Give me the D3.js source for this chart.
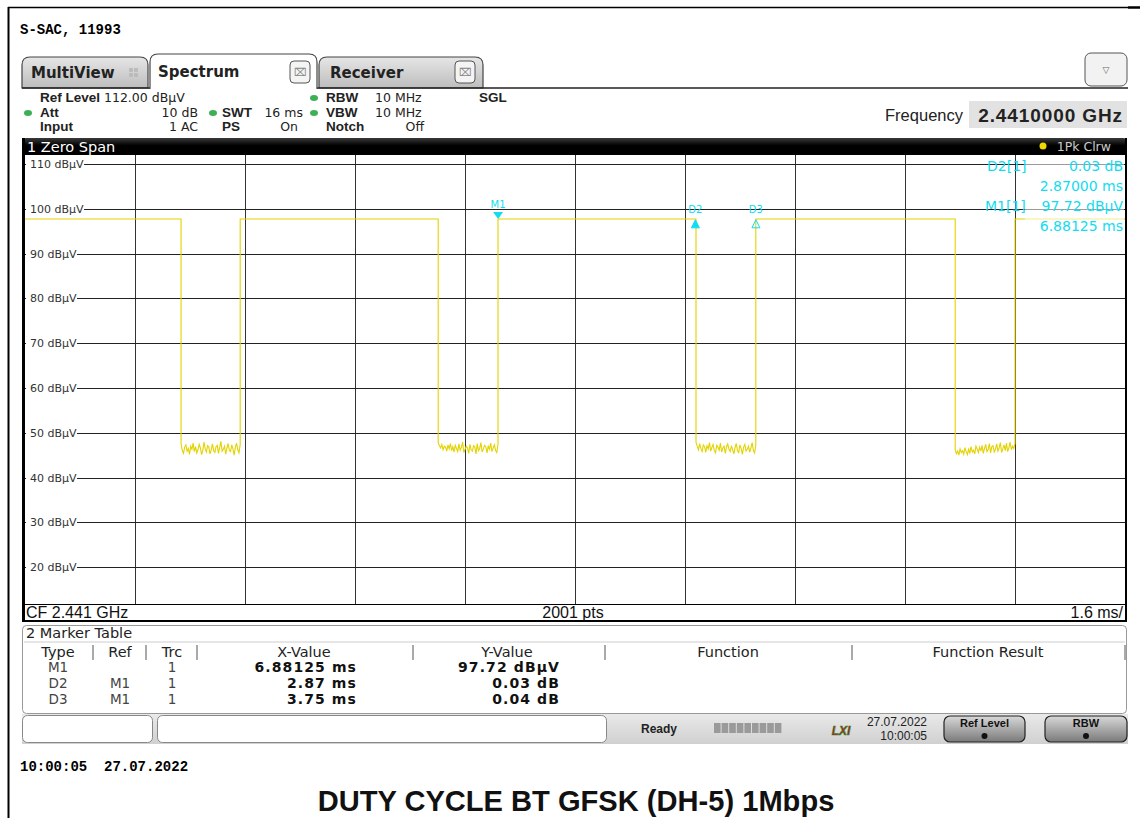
<!DOCTYPE html>
<html><head><meta charset="utf-8">
<script src="https://cdn.jsdelivr.net/npm/d3@7"></script>
<style>
html,body{margin:0;padding:0;background:#fff;}
svg{display:block;}
</style></head>
<body>
<svg id="c" width="1140" height="818"></svg>
<script>
// ---------------- DATA ----------------
const sweepTime = [0, 16];               // ms
const levelRange = [12, 112];            // dBµV (ref level 112)
const yTicks = [20, 30, 40, 50, 60, 70, 80, 90, 100, 110];
const xGrid = [1.6, 3.2, 4.8, 6.4, 8.0, 9.6, 11.2, 12.8, 14.4];
const highLevel = 97.72;
const fallTimes = [2.27, 6.01, 9.76, 13.53];   // ms
const riseTimes = [3.13, 6.88, 10.63, 14.40];  // ms
const lowNoise1 = [47.6,46.1,45.4,46.8,47.3,45.9,46.5,45.2,47.0,46.3,47.7,45.8,46.9,45.5,46.2,47.4,46.6,45.1,46.0,47.9,46.4,45.7,47.1,46.8,45.3,46.2,47.5,46.0,45.6,46.9,47.2,45.4,46.7,48.1,45.9,46.3,47.0,45.2,46.6,47.6,46.1,45.8,47.3,46.4,45.0,46.8,47.7,46.2,45.5,47.4];
const lowNoise2 = [47.8,47.1,46.6,47.4,46.2,47.0,46.8,45.9,47.3,46.4,47.6,46.0,46.9,45.7,47.2,46.5,45.8,47.5,46.1,46.7,47.9,45.6,46.3,47.0,46.6,45.4,47.4,46.2,45.9,47.1,46.8,45.3,47.6,46.0,46.5,47.8,45.7,46.4,47.2,46.9,45.5,47.0,46.3,47.7,45.8,46.6,47.3,46.1,45.6,47.5];
const lowNoise3 = [47.9,47.0,46.2,47.6,46.5,45.8,47.3,46.9,45.6,47.1,46.4,47.8,45.9,46.7,47.4,46.0,45.5,47.2,46.8,46.1,47.7,45.7,46.6,47.0,45.4,46.9,47.5,46.3,45.8,47.1,46.2,45.3,46.7,47.6,46.0,45.6,47.3,46.5,45.2,46.8,47.4,45.9,46.3,47.0,45.7,46.6,47.8,46.1,45.5,47.2];
const lowNoise4 = [46.2,45.3,45.9,45.0,46.4,45.6,46.0,45.2,46.7,45.8,45.1,46.3,45.5,46.9,45.7,46.1,45.3,47.0,46.4,45.6,46.8,45.9,47.2,45.4,46.5,47.4,45.8,46.2,47.6,45.5,46.9,47.1,45.7,46.3,47.5,45.9,46.6,47.8,45.6,46.4,47.3,46.0,47.7,45.8,46.7,47.9,46.2,47.0,46.5,47.6];
const lowSegments = [lowNoise1, lowNoise2, lowNoise3, lowNoise4];

const markerNames = ["M1", "D2", "D3"];
const markerRefs = ["", "M1", "M1"];
const markerTrc = ["1", "1", "1"];
const markerX = ["6.88125 ms", "2.87 ms", "3.75 ms"];
const markerY = ["97.72 dBµV", "0.03 dB", "0.04 dB"];
const markerTimes = [6.88125, 6.88125 + 2.87, 6.88125 + 3.75];
const markerLevels = [97.72, 97.75, 97.76];

// ---------------- DRAW ----------------
const svg = d3.select("#c");
const UI = "DejaVu Sans, Verdana, sans-serif";
const CN = "Liberation Sans, Arial, sans-serif";
const MONO = "Liberation Mono, Courier New, monospace";

// outer frame lines
svg.append("line").attr("x1",8).attr("x2",1128).attr("y1",7.5).attr("y2",7.5).attr("stroke","#000").attr("stroke-width",1.5);
svg.append("line").attr("x1",1128).attr("x2",1140).attr("y1",7.5).attr("y2",7.5).attr("stroke","#000").attr("stroke-width",2.5);
svg.append("line").attr("x1",8.5).attr("x2",8.5).attr("y1",7).attr("y2",818).attr("stroke","#000").attr("stroke-width",2);

svg.append("text").attr("x",20).attr("y",34).attr("font-family",MONO)
  .attr("font-weight","bold").attr("font-size",14).text("S-SAC, 11993");

// defs gradients
const defs = svg.append("defs");
const g1 = defs.append("linearGradient").attr("id","tabg").attr("x1",0).attr("x2",0).attr("y1",0).attr("y2",1);
g1.append("stop").attr("offset","0%").attr("stop-color","#e6e6e6");
g1.append("stop").attr("offset","100%").attr("stop-color","#bdbdbd");
const g2 = defs.append("linearGradient").attr("id","btng").attr("x1",0).attr("x2",0).attr("y1",0).attr("y2",1);
g2.append("stop").attr("offset","0%").attr("stop-color","#d8d8d8");
g2.append("stop").attr("offset","100%").attr("stop-color","#7a7a7a");
const g3 = defs.append("linearGradient").attr("id","barg").attr("x1",0).attr("x2",0).attr("y1",0).attr("y2",1);
g3.append("stop").attr("offset","0%").attr("stop-color","#3a3a3a");
g3.append("stop").attr("offset","45%").attr("stop-color","#000");
g3.append("stop").attr("offset","100%").attr("stop-color","#000");
const g4 = defs.append("linearGradient").attr("id","statg").attr("x1",0).attr("x2",0).attr("y1",0).attr("y2",1);
g4.append("stop").attr("offset","0%").attr("stop-color","#e9e9e9");
g4.append("stop").attr("offset","100%").attr("stop-color","#d0d0d0");

// tabs
function tabPath(x1, x2, y1, y2, r) {
  return `M${x1},${y2} L${x1},${y1+r} Q${x1},${y1} ${x1+r},${y1} L${x2-r},${y1} Q${x2},${y1} ${x2},${y1+r} L${x2},${y2}`;
}
svg.append("path").attr("d", tabPath(22,148,57,88,8)+"Z").attr("fill","url(#tabg)").attr("stroke","#444").attr("stroke-width",1.2);
svg.append("path").attr("d", tabPath(319,483,57,88,8)+"Z").attr("fill","url(#tabg)").attr("stroke","#444").attr("stroke-width",1.2);
svg.append("line").attr("x1",22).attr("x2",1128).attr("y1",88).attr("y2",88).attr("stroke","#222").attr("stroke-width",1.5);
svg.append("path").attr("d", tabPath(150,317,54,89,8)).attr("fill","#fff").attr("stroke","#444").attr("stroke-width",1.2);
svg.append("text").attr("x",31).attr("y",78).attr("font-family",UI).attr("font-weight","bold").attr("font-size",15).attr("fill","#222").text("MultiView");
[[129,68],[134,68],[129,73],[134,73]].forEach(p=>svg.append("rect").attr("x",p[0]).attr("y",p[1]).attr("width",4).attr("height",4).attr("rx",1).attr("fill","#bbb"));
svg.append("text").attr("x",158).attr("y",77).attr("font-family",UI).attr("font-weight","bold").attr("font-size",15).attr("fill","#222").text("Spectrum");
svg.append("text").attr("x",330).attr("y",78).attr("font-family",UI).attr("font-weight","bold").attr("font-size",15).attr("fill","#222").text("Receiver");
function closeBtn(x,y){
  svg.append("rect").attr("x",x).attr("y",y).attr("width",20).attr("height",22).attr("rx",4).attr("fill","#f4f4f4").attr("stroke","#555");
  svg.append("text").attr("x",x+10).attr("y",y+15).attr("text-anchor","middle").attr("font-family",UI).attr("font-size",11).attr("fill","#888").text("⌧");
}
closeBtn(290,61); closeBtn(455,61);
svg.append("rect").attr("x",1085).attr("y",53).attr("width",42).attr("height",33).attr("rx",6).attr("fill","#f2f2f2").attr("stroke","#555");
svg.append("text").attr("x",1106).attr("y",73).attr("text-anchor","middle").attr("font-family",UI).attr("font-size",9).attr("fill","#666").text("▽");

// info header
const info = svg.append("g").attr("font-family",UI).attr("font-size",12.5).attr("fill","#222");
function t(x,y,s,anchor,bold){ const e=info.append("text").attr("x",x).attr("y",y).text(s); if(anchor) e.attr("text-anchor",anchor); if(bold) e.attr("font-weight","bold").attr("font-family",CN).attr("font-size",13.5); return e; }
function dot(x,y){ info.append("ellipse").attr("cx",x).attr("cy",y).attr("rx",4).attr("ry",3).attr("fill","#3cb054"); }
t(40,102,"Ref Level",null,true); t(104,102,"112.00 dBµV");
dot(28,113); t(40,117,"Att",null,true); t(198,117,"10 dB","end");
dot(213,113); t(222,117,"SWT",null,true); t(303,117,"16 ms","end");
t(40,131,"Input",null,true); t(198,131,"1 AC","end");
t(222,131,"PS",null,true); t(298,131,"On","end");
dot(314,98); t(326,102,"RBW",null,true); t(375,102,"10 MHz");
dot(314,113); t(326,117,"VBW",null,true); t(375,117,"10 MHz");
t(326,131,"Notch",null,true); t(424,131,"Off","end");
t(479,102,"SGL",null,true);
svg.append("text").attr("x",963).attr("y",121).attr("text-anchor","end").attr("font-family",CN).attr("font-size",16.5).attr("fill","#222").text("Frequency");
svg.append("rect").attr("x",969).attr("y",101).attr("width",158).attr("height",27).attr("fill","#e2e2e2");
svg.append("text").attr("x",1123).attr("y",122).attr("text-anchor","end").attr("font-family",CN).attr("font-weight","bold").attr("font-size",19).attr("letter-spacing",0.9).attr("fill","#222").text("2.4410000 GHz");

// title bar
svg.append("path").attr("d","M22,155 L22,142 Q22,138 26,138 L1123,138 Q1127,138 1127,142 L1127,155 Z").attr("fill","url(#barg)");
svg.append("text").attr("x",27).attr("y",152).attr("font-family",UI).attr("font-size",14.5).attr("fill","#fff").text("1 Zero Span");
svg.append("circle").attr("cx",1043).attr("cy",146).attr("r",3.5).attr("fill","#f0d800");
svg.append("text").attr("x",1111).attr("y",151).attr("text-anchor","end").attr("font-family",UI).attr("font-size",12.5).attr("fill","#ccc").text("1Pk Clrw");

// plot
const x = d3.scaleLinear().domain(sweepTime).range([25, 1125]);
const y = d3.scaleLinear().domain(levelRange).range([603, 155]);
const plot = svg.append("g");
plot.append("rect").attr("x",25).attr("y",155).attr("width",1100).attr("height",449).attr("fill","#fff");
plot.selectAll("line.vg").data(xGrid).join("line").attr("class","vg")
  .attr("x1",d=>Math.round(x(d))+0.5).attr("x2",d=>Math.round(x(d))+0.5).attr("y1",155).attr("y2",604)
  .attr("stroke","#333").attr("stroke-width",1);
plot.selectAll("line.hg").data(yTicks).join("line").attr("class","hg")
  .attr("x1",25).attr("x2",1125).attr("y1",d=>Math.round(y(d))+0.5).attr("y2",d=>Math.round(y(d))+0.5)
  .attr("stroke","#222").attr("stroke-width",1);
const lab = plot.selectAll("g.yl").data(yTicks).join("g").attr("class","yl");
lab.append("rect").attr("x",26).attr("y",d=>y(d)-7).attr("width",d=>d>=100?58:51).attr("height",14).attr("fill","#fff");
lab.append("text").attr("x",30).attr("y",d=>y(d)+4).attr("font-family",UI).attr("font-size",11).attr("fill","#333").text(d=>d+" dBµV");

// trace
const pts = [[0, highLevel]];
fallTimes.forEach((ft,i)=>{
  const rt = riseTimes[i]; const seg = lowSegments[i];
  pts.push([ft, highLevel]);
  seg.forEach((v,j)=>pts.push([ft + (rt-ft)*j/(seg.length-1), v]));
  pts.push([rt, highLevel]);
});
pts.push([16, highLevel]);
plot.append("path").datum(pts).attr("fill","none").attr("stroke","#e3d300").attr("stroke-width",1.1)
  .attr("d", d3.line().x(d=>x(d[0])).y(d=>y(d[1])));

// markers
const cyan = "#12dcf0";
markerTimes.forEach((mt,i)=>{
  const mx = x(mt), my = y(markerLevels[i]);
  const g = plot.append("g");
  if (i===0) {
    g.append("path").attr("d",`M${mx-5},${my-7} L${mx+5},${my-7} L${mx},${my} Z`).attr("fill",cyan);
    g.append("text").attr("x",mx).attr("y",my-11).attr("text-anchor","middle").attr("font-family",UI).attr("font-size",10).attr("fill",cyan).text(markerNames[i]);
  } else {
    g.append("path").attr("d",`M${mx-4},${my+9} L${mx+4},${my+9} L${mx},${my+1} Z`)
      .attr("fill", i===1?cyan:"none").attr("stroke",cyan).attr("stroke-width",1);
    g.append("text").attr("x",mx).attr("y",my-6).attr("text-anchor","middle").attr("font-family",UI).attr("font-size",10).attr("fill",cyan).text(markerNames[i]);
  }
});
// marker readout
const ro = plot.append("g").attr("font-family",UI).attr("font-size",14).attr("fill",cyan);
ro.append("rect").attr("x",1025).attr("y",157).attr("width",99).attr("height",78).attr("fill","#fff").attr("opacity",0.55);
ro.append("text").attr("x",987).attr("y",171).text("D2[1]");
ro.append("text").attr("x",1123).attr("y",171).attr("text-anchor","end").text(markerY[1]);
ro.append("text").attr("x",1123).attr("y",191).attr("text-anchor","end").text("2.87000 ms");
ro.append("text").attr("x",985).attr("y",211).text("M1[1]");
ro.append("text").attr("x",1123).attr("y",211).attr("text-anchor","end").text(markerY[0]);
ro.append("text").attr("x",1123).attr("y",231).attr("text-anchor","end").text("6.88125 ms");

// plot frame
svg.append("line").attr("x1",23.5).attr("x2",23.5).attr("y1",138).attr("y2",622).attr("stroke","#000").attr("stroke-width",3);
svg.append("line").attr("x1",1126).attr("x2",1126).attr("y1",138).attr("y2",622).attr("stroke","#000").attr("stroke-width",2);
svg.append("line").attr("x1",22).attr("x2",1127).attr("y1",604.5).attr("y2",604.5).attr("stroke","#000").attr("stroke-width",1);
svg.append("line").attr("x1",22).attr("x2",1127).attr("y1",621).attr("y2",621).attr("stroke","#000").attr("stroke-width",2);
const ftx = svg.append("g").attr("font-family",CN).attr("font-size",16).attr("fill","#111");
ftx.append("text").attr("x",26).attr("y",618).text("CF 2.441 GHz");
ftx.append("text").attr("x",573).attr("y",618).attr("text-anchor","middle").text("2001 pts");
ftx.append("text").attr("x",1123).attr("y",618).attr("text-anchor","end").text("1.6 ms/");

// marker table
svg.append("rect").attr("x",22.5).attr("y",625.5).attr("width",1104).attr("height",88).attr("rx",4).attr("fill","#fff").attr("stroke","#999");
svg.append("rect").attr("x",24).attr("y",641).attr("width",1101).attr("height",2).attr("fill","#e6e6e6");
const mt = svg.append("g").attr("font-family",UI).attr("font-size",14.5).attr("fill","#222");
mt.append("text").attr("x",26).attr("y",638).text("2 Marker Table");
const headers = ["Type","Ref","Trc","X-Value","Y-Value","Function","Function Result"];
const headerX = [58,120,172,304,507,728,988];
const seps = [93,146,197,413,605,852,1125];
headers.forEach((h,i)=>mt.append("text").attr("x",headerX[i]).attr("y",657).attr("text-anchor","middle").text(h));
seps.forEach(s=>mt.append("line").attr("x1",s).attr("x2",s).attr("y1",645).attr("y2",660).attr("stroke","#555"));
markerNames.forEach((n,i)=>{
  const yy = 672 + i*16;
  mt.append("text").attr("x",58).attr("y",yy).attr("text-anchor","middle").attr("font-size",13.5).attr("fill","#444").text(n);
  mt.append("text").attr("x",120).attr("y",yy).attr("text-anchor","middle").attr("font-size",13.5).attr("fill","#444").text(markerRefs[i]);
  mt.append("text").attr("x",172).attr("y",yy).attr("text-anchor","middle").attr("font-size",13.5).attr("fill","#444").text(markerTrc[i]);
  mt.append("text").attr("x",357).attr("y",yy).attr("text-anchor","end").attr("font-weight","bold").attr("font-size",14).attr("letter-spacing",1.1).attr("fill","#111").text(markerX[i]);
  mt.append("text").attr("x",560).attr("y",yy).attr("text-anchor","end").attr("font-weight","bold").attr("font-size",14).attr("letter-spacing",1.1).attr("fill","#111").text(markerY[i]);
});

// status bar
svg.append("rect").attr("x",22).attr("y",714).attr("width",1106).attr("height",30).attr("fill","url(#statg)");
svg.append("rect").attr("x",22.5).attr("y",715.5).attr("width",130).attr("height",27).attr("rx",5).attr("fill","#fff").attr("stroke","#888");
svg.append("rect").attr("x",157.5).attr("y",715.5).attr("width",449).attr("height",27).attr("rx",5).attr("fill","#fff").attr("stroke","#888");
svg.append("text").attr("x",659).attr("y",733).attr("text-anchor","middle").attr("font-family",CN).attr("font-weight","bold").attr("font-size",12).attr("fill","#222").text("Ready");
for (let k=0;k<9;k++) svg.append("rect").attr("x",714+k*7.6).attr("y",723).attr("width",6.6).attr("height",10).attr("fill","#9a9a9a");
svg.append("text").attr("x",841).attr("y",735).attr("text-anchor","middle").attr("font-family",CN).attr("font-weight","bold").attr("font-style","italic").attr("font-size",12).attr("fill","#b02020").attr("stroke","#2a8a2a").attr("stroke-width",0.6).text("LXI");
svg.append("text").attr("x",927).attr("y",726).attr("text-anchor","end").attr("font-family",CN).attr("font-size",12).attr("fill","#222").text("27.07.2022");
svg.append("text").attr("x",927).attr("y",740).attr("text-anchor","end").attr("font-family",CN).attr("font-size",12).attr("fill","#222").text("10:00:05");
function sbtn(x1,w,label){
  svg.append("rect").attr("x",x1).attr("y",716).attr("width",w).attr("height",26).attr("rx",6).attr("fill","url(#btng)").attr("stroke","#222").attr("stroke-width",1.2);
  svg.append("text").attr("x",x1+w/2).attr("y",727).attr("text-anchor","middle").attr("font-family",CN).attr("font-weight","bold").attr("font-size",11).attr("fill","#111").text(label);
  svg.append("circle").attr("cx",x1+w/2).attr("cy",736).attr("r",3).attr("fill","#111");
}
sbtn(944,81,"Ref Level"); sbtn(1045,82,"RBW");

// footer
svg.append("text").attr("x",20).attr("y",771).attr("font-family",MONO)
  .attr("font-weight","bold").attr("font-size",14).attr("xml:space","preserve").text("10:00:05  27.07.2022");
svg.append("text").attr("transform","translate(576,811) scale(0.97,1)").attr("text-anchor","middle").attr("font-family",CN)
  .attr("font-weight","bold").attr("font-size",30).attr("fill","#111").text("DUTY CYCLE BT GFSK (DH-5) 1Mbps");
</script>
</body></html>
